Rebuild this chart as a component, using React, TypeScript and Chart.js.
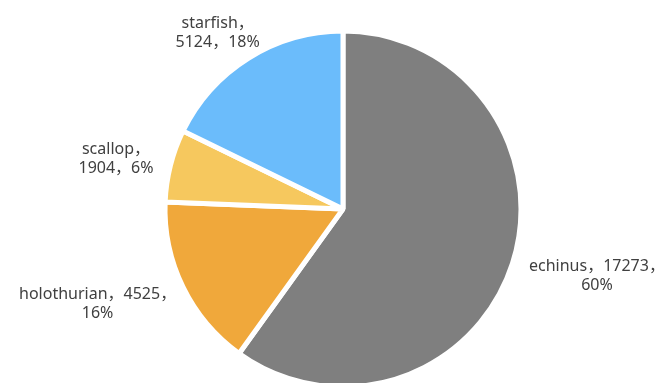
import React, { useEffect, useRef } from "react";
import { Chart, registerables } from "chart.js";

Chart.register(...registerables);

const categories = ["echinus", "holothurian", "scallop", "starfish"];
const values = [17273, 4525, 1904, 5124];
const percentLabels = ["60%", "16%", "6%", "18%"];
const colors = ["#7F7F7F", "#F0A83B", "#F6C85E", "#6BBCFB"];

// label layout: lines for each slice, and placement (distance from centre along mid-angle, nudges)
const labelLines: string[][] = [
  [`${categories[0]}，${values[0]}，`, percentLabels[0]],
  [`${categories[1]}，${values[1]}，`, percentLabels[1]],
  [`${categories[2]}，`, `${values[2]}，${percentLabels[2]}`],
  [`${categories[3]}，`, `${values[3]}，${percentLabels[3]}`],
];
const labelPlacement = [
  { dist: 250, dx: 16, dy: -10 },
  { dist: 262, dx: -10, dy: -20 },
  { dist: 232, dx: -2, dy: 7 },
  { dist: 212, dx: -13, dy: 4 },
];

const labelPlugin = {
  id: "sliceLabels",
  afterDatasetsDraw(chart: any) {
    const ctx = chart.ctx;
    const meta = chart.getDatasetMeta(0);
    ctx.save();
    ctx.font = '16px "Noto Sans", "Noto Sans CJK SC", sans-serif';
    ctx.fillStyle = "#404040";
    ctx.textAlign = "center";
    ctx.textBaseline = "middle";
    meta.data.forEach((arc: any, i: number) => {
      const { x, y, startAngle, endAngle } = arc.getProps(["x", "y", "startAngle", "endAngle"], true);
      const mid = (startAngle + endAngle) / 2;
      const p = labelPlacement[i];
      const cx = x + Math.cos(mid) * p.dist + p.dx;
      const cy = y + Math.sin(mid) * p.dist + p.dy;
      const lines = labelLines[i];
      const lh = 19;
      lines.forEach((ln, k) => {
        ctx.fillText(ln, cx, cy + (k - (lines.length - 1) / 2) * lh);
      });
    });
    ctx.restore();
  },
};

export default function App() {
  const ref = useRef<HTMLCanvasElement>(null);
  useEffect(() => {
    if (!ref.current) return;
    const chart = new Chart(ref.current, {
      type: "pie",
      data: {
        labels: categories,
        datasets: [
          {
            data: values,
            backgroundColor: colors,
            borderColor: "#FFFFFF",
            borderWidth: 5,
          },
        ],
      },
      options: {
        responsive: false,
        animation: false,
        radius: 178,
        layout: { padding: { left: 22, top: 35, right: 0, bottom: 0 } },
        plugins: {
          legend: { display: false },
          tooltip: { enabled: false },
        },
      } as any,
      plugins: [labelPlugin],
    });
    return () => chart.destroy();
  }, []);
  return (
    <div style={{ position: "fixed", left: 0, top: 0, width: 664, height: 383, background: "#fff" }}>
      <canvas ref={ref} width={664} height={383} style={{ width: 664, height: 383 }} />
    </div>
  );
}
